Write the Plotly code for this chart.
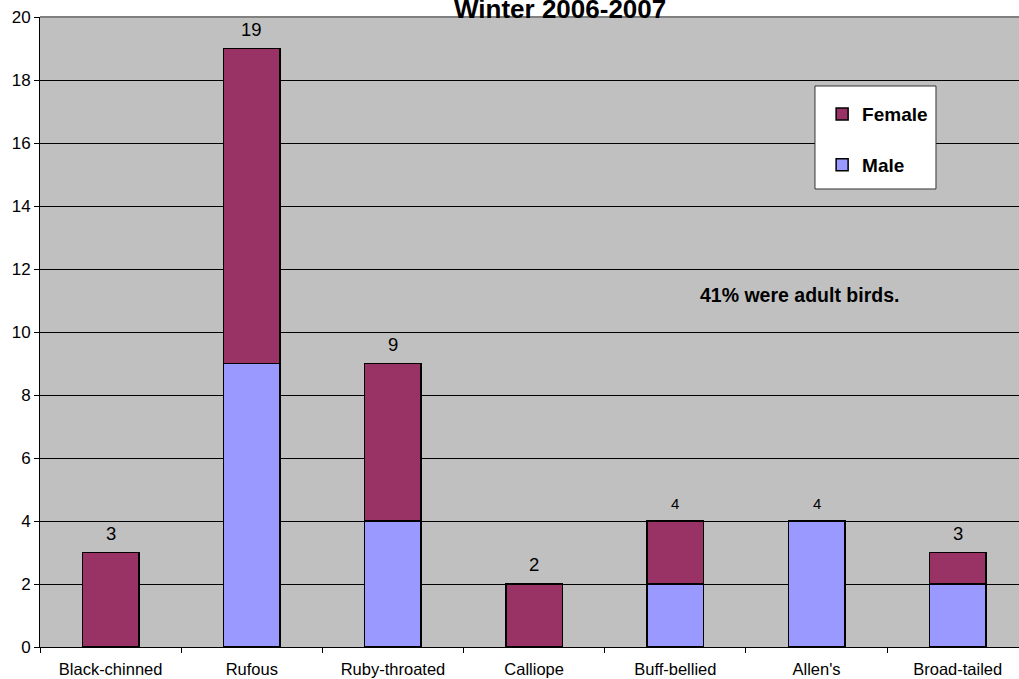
import plotly.graph_objects as go

categories = ["Black-chinned", "Rufous", "Ruby-throated", "Calliope",
              "Buff-bellied", "Allen's", "Broad-tailed"]
male = [0, 9, 4, 0, 2, 4, 2]
female = [3, 10, 5, 2, 2, 0, 1]
label_sizes = [18.5, 18.5, 18.5, 18.5, 15, 15, 18.5]
y_ticks = [0, 2, 4, 6, 8, 10, 12, 14, 16, 18, 20]

FONT = "Arial, 'Liberation Sans', sans-serif"
totals = [m + f for m, f in zip(male, female)]

fig = go.Figure()
fig.add_trace(go.Bar(x=categories, y=male, name="Male",
                     marker=dict(color="#9999FF", line=dict(color="black", width=1.5)),
                     legendgroup="m", legendrank=2))
fig.add_trace(go.Bar(x=categories, y=female, name="Female",
                     marker=dict(color="#993366", line=dict(color="black", width=1.5)),
                     legendgroup="f", legendrank=1))

annotations = []
for c, t, s in zip(categories, totals, label_sizes):
    annotations.append(dict(x=c, y=t, xref="x", yref="y", text=str(t), showarrow=False,
                            yanchor="bottom", yshift=7,
                            font=dict(family=FONT, size=s, color="black")))
annotations.append(dict(x=0.5312, y=1, xref="paper", yref="paper", text="<b>Winter 2006-2007</b>",
                        showarrow=False, yanchor="bottom", yshift=-9,
                        font=dict(family=FONT, size=26, color="black")))
annotations.append(dict(x=0.7763, y=0.5587, xref="paper", yref="paper",
                        text="<b>41% were adult birds.</b>", showarrow=False,
                        xanchor="center", yanchor="middle",
                        font=dict(family=FONT, size=19.5, color="black")))

shapes = [
    dict(type="rect", xref="paper", yref="paper", x0=0.7916, x1=0.9152, y0=0.727, y1=0.8905,
         fillcolor="white", line=dict(color="#333333", width=1), layer="above"),
    dict(type="line", xref="paper", yref="paper", x0=0, x1=1, y0=1, y1=1,
         line=dict(color="#808080", width=2), layer="above"),
]

fig.update_layout(
    width=1019, height=679,
    margin=dict(l=40, r=0, t=17, b=32),
    barmode="stack", bargap=0.6,
    paper_bgcolor="white", plot_bgcolor="#C0C0C0",
    font=dict(family=FONT, color="black"),
    showlegend=True,
    legend=dict(x=0.7989, y=0.876, xanchor="left", yanchor="top",
                bgcolor="rgba(0,0,0,0)", borderwidth=0,
                traceorder="grouped", tracegroupgap=23,
                font=dict(family=FONT, size=19, color="black", weight="bold"),
                itemwidth=30),
    annotations=annotations,
    shapes=shapes,
)
fig.update_xaxes(range=[-0.5, 6.434], showline=True, linecolor="black", linewidth=1,
                 ticks="outside", tickson="boundaries", ticklen=5, tickcolor="black",
                 ticklabelstandoff=7,
                 showgrid=False, tickfont=dict(family=FONT, size=16.5, color="black"))
fig.update_yaxes(range=[0, 20], tickvals=y_ticks, showline=True, linecolor="black", linewidth=1,
                 ticks="outside", ticklen=5, tickcolor="black",
                 showgrid=True, gridcolor="black", gridwidth=1, zeroline=False,
                 tickfont=dict(family=FONT, size=17, color="black"))

fig.write_html("out.html", config={"displayModeBar": False},
               post_script="document.body.style.margin='0';document.body.style.overflow='hidden';")
